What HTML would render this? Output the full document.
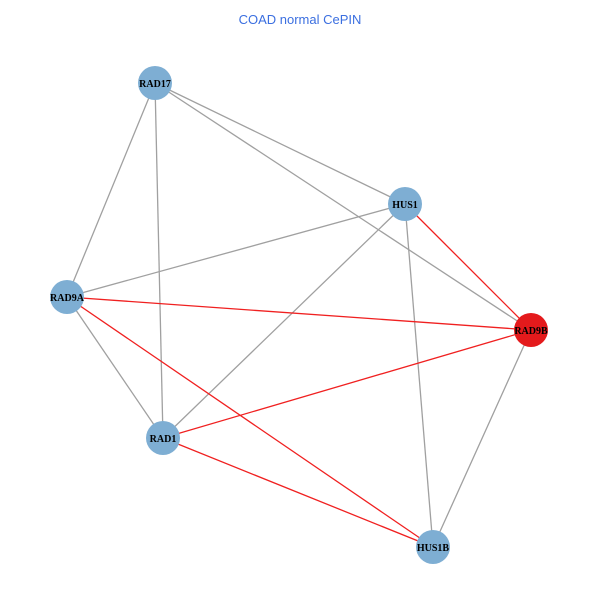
<!DOCTYPE html>
<html><head><meta charset="utf-8"><style>html,body{margin:0;padding:0;background:#fff}</style></head>
<body>
<svg width="600" height="600" xmlns="http://www.w3.org/2000/svg">
<rect width="600" height="600" fill="#fff"/>
<text x="300" y="24" text-anchor="middle" font-family="Liberation Sans, sans-serif" font-size="13" fill="#3b6fe0">COAD normal CePIN</text>
<g stroke="#a0a0a0" stroke-width="1.3">
<line x1="155" y1="83" x2="405" y2="204"/>
<line x1="155" y1="83" x2="531" y2="330"/>
<line x1="155" y1="83" x2="67" y2="297"/>
<line x1="155" y1="83" x2="163" y2="438"/>
<line x1="405" y1="204" x2="67" y2="297"/>
<line x1="405" y1="204" x2="163" y2="438"/>
<line x1="405" y1="204" x2="433" y2="547"/>
<line x1="67" y1="297" x2="163" y2="438"/>
<line x1="531" y1="330" x2="433" y2="547"/>
</g>
<g stroke="#f02020" stroke-width="1.3">
<line x1="405" y1="204" x2="531" y2="330"/>
<line x1="67" y1="297" x2="531" y2="330"/>
<line x1="67" y1="297" x2="433" y2="547"/>
<line x1="163" y1="438" x2="531" y2="330"/>
<line x1="163" y1="438" x2="433" y2="547"/>
</g>
<g fill="#7eaed3">
<circle cx="155" cy="83" r="17"/>
<circle cx="405" cy="204" r="17"/>
<circle cx="67" cy="297" r="17"/>
<circle cx="163" cy="438" r="17"/>
<circle cx="433" cy="547" r="17"/>
</g>
<circle cx="531" cy="330" r="17" fill="#e41a1c"/>
<g font-family="Liberation Serif, serif" font-weight="bold" font-size="10" text-anchor="middle" fill="#000">
<text x="155" y="87">RAD17</text>
<text x="405" y="208">HUS1</text>
<text x="67" y="301">RAD9A</text>
<text x="531" y="334">RAD9B</text>
<text x="163" y="442">RAD1</text>
<text x="433" y="551">HUS1B</text>
</g>
</svg>
</body></html>
